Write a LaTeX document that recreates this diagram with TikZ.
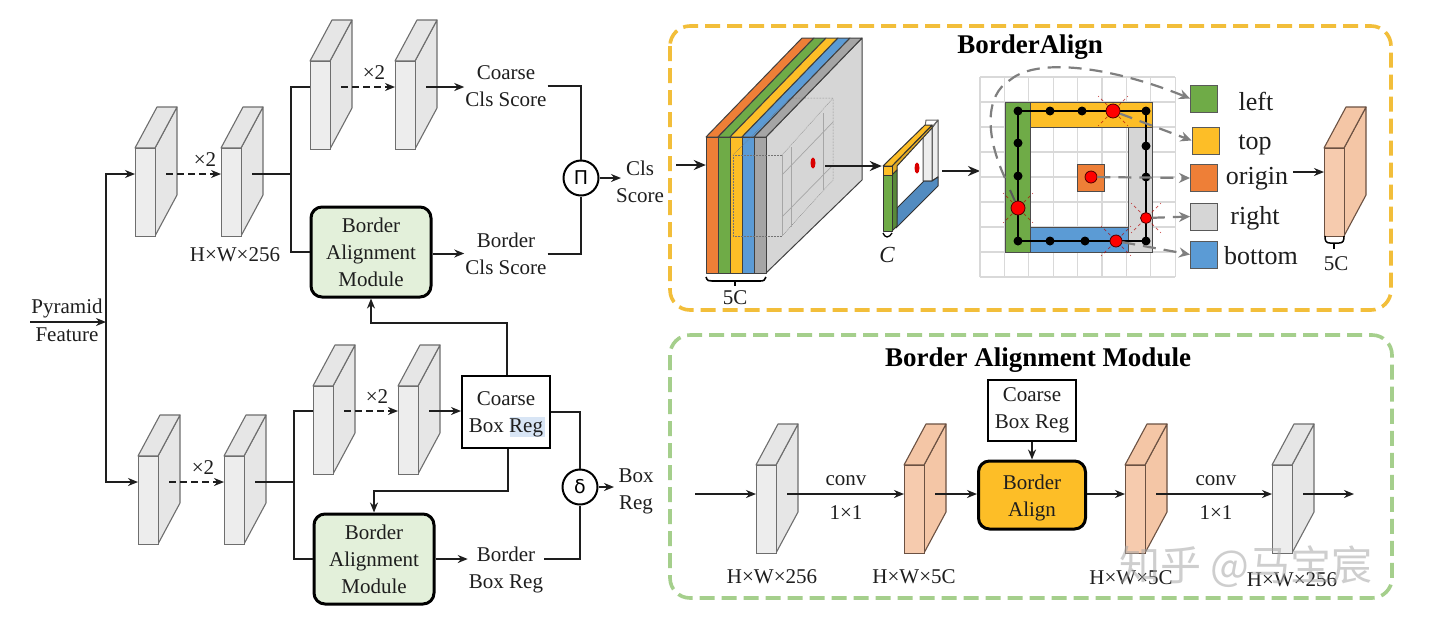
\documentclass[tikz,border=0pt]{standalone}
\usepackage{fontspec}
\setmainfont{Liberation Serif}
\newfontfamily\cjkwm{Noto Sans CJK SC}
\newfontfamily\symf{DejaVu Sans}
\usetikzlibrary{arrows.meta,calc}
\definecolor{slabF}{HTML}{EDEDED}\definecolor{slabS}{HTML}{E6E6E6}\definecolor{slabL}{HTML}{6E6E6E}
\definecolor{peachF}{HTML}{F6CBAE}\definecolor{peachS}{HTML}{F4C6A6}\definecolor{peachL}{HTML}{6B5142}
\definecolor{cOr}{HTML}{EE7F37}\definecolor{cGr}{HTML}{6FAB47}\definecolor{cYe}{HTML}{FDBE27}
\definecolor{cBl}{HTML}{5B9BD5}\definecolor{cGy}{HTML}{A5A5A5}\definecolor{cLg}{HTML}{D6D6D6}
\definecolor{ink}{HTML}{1E1E1E}\definecolor{dashY}{HTML}{F2BE3A}\definecolor{dashG}{HTML}{A5CF8C}
\definecolor{bamF}{HTML}{E3F0DA}\definecolor{hl}{HTML}{D8E5F5}\definecolor{arrG}{HTML}{7F7F7F}
\tikzset{
 lab/.style={font=\fontsize{21}{27}\selectfont,align=center,inner sep=1pt,text=ink},
 leg/.style={font=\fontsize{26}{28}\selectfont,inner sep=0pt,text=ink},
 ttl/.style={font=\fontsize{27}{30}\selectfont\bfseries,inner sep=0pt,text=black},
 conn/.style={draw=ink,line width=2pt,line join=miter},
 arr/.style={conn,-{Stealth[length=10pt,width=8pt]}},
 bigarr/.style={conn,-{Stealth[length=12pt,width=10pt]}},
 dasharr/.style={arr,dash pattern=on 7pt off 4pt},
 box/.style={draw=black,line width=2pt,fill=white,align=center,font=\fontsize{21}{27}\selectfont,text=ink,inner sep=0pt},
 bam/.style={box,rounded corners=11pt,line width=3pt,fill=bamF,minimum width=120pt,minimum height=90pt},
 fr/.style={line width=3.6pt,rounded corners=20pt,dash pattern=on 15pt off 7pt},
 op/.style={circle,draw=black,line width=2pt,fill=white,minimum size=35pt,inner sep=0pt},
 gyarr/.style={draw=arrG,line width=2.2pt,dash pattern=on 13pt off 8pt,-{Stealth[length=11pt,width=10pt]}},
 rdot/.style={circle,fill=red,draw=black!70!red,line width=.8pt,inner sep=0pt,minimum size=#1},
 bdot/.style={circle,fill=black,inner sep=0pt,minimum size=9pt},
 ray/.style={draw=red!70!black,line width=.7pt,dashed,opacity=.7},
 legbox/.style={draw=black!65,line width=1pt,minimum width=27pt,minimum height=27pt,inner sep=0pt}
}
\newcommand{\slabbox}[7]{%
 \fill[#5,draw=#6,line width=1.1pt,line join=round] (#2+20,#3)--(#2+42,#3-41)--(#2+42,#3+47)--(#2+20,#3+88)--cycle;
 \fill[#5,draw=#6,line width=1.1pt,line join=round] (#2,#3)--(#2+22,#3-41)--(#2+42,#3-41)--(#2+20,#3)--cycle;
 \node[draw=#6,fill=#4,line width=1.1pt,minimum width=20pt,minimum height=88pt,inner sep=0pt,anchor=north west] (#1) at (#2,#3) {};
 \coordinate (#1-in) at (#2,#3+#7);
 \coordinate (#1-out) at (#2+31,#3+#7);
}
\begin{document}
\begin{tikzpicture}[x=1pt,y=-1pt]
\useasboundingbox (0,0) rectangle (1434,630);
\fill[white] (0,0) rectangle (1434,630);
\draw[fr,draw=dashY] (670,26) rectangle (1391,310);
\draw[fr,draw=dashG] (670,335) rectangle (1392,598);
\node[ttl] (t1) at (1030,47) {BorderAlign};
\node[ttl] (t2) at (1038,360) {Border Alignment Module};
\slabbox{a1}{135}{148}{slabF}{slabS}{slabL}{26}
\slabbox{a2}{221}{148}{slabF}{slabS}{slabL}{26}
\slabbox{b1}{310}{61}{slabF}{slabS}{slabL}{26}
\slabbox{b2}{395}{61}{slabF}{slabS}{slabL}{26}
\slabbox{c1}{138}{456}{slabF}{slabS}{slabL}{26}
\slabbox{c2}{224}{456}{slabF}{slabS}{slabL}{26}
\slabbox{d1}{313}{386}{slabF}{slabS}{slabL}{25}
\slabbox{d2}{398}{386}{slabF}{slabS}{slabL}{25}
\slabbox{e1}{756}{465}{slabF}{slabS}{slabL}{29}
\slabbox{e2}{904}{465}{peachF}{peachS}{peachL}{29}
\slabbox{e3}{1125}{465}{peachF}{peachS}{peachL}{29}
\slabbox{e4}{1272}{465}{slabF}{slabS}{slabL}{29}
\slabbox{f1}{1324}{148}{peachF}{peachS}{peachL}{24}
\node[lab] (pyr) at (67,308) {Pyramid};
\node[lab] (fea) at (67,335) {Feature};
\coordinate (pstart) at (30,322);
\coordinate (pjoin) at (106,322);
\node[lab] (dim1) at (235,255) {H×W×256};
\node[lab] (x1) at (205,160) {×2};
\node[lab] (x2) at (374,73) {×2};
\node[lab] (x3) at (203,468) {×2};
\node[lab] (x4) at (377,397) {×2};
\node[lab] (cc) at (506,86) {Coarse\\Cls Score};
\node[lab] (bc) at (506,253.5) {Border\\Cls Score};
\node[lab] (cs) at (640,182) {Cls\\Score};
\node[lab] (bb) at (506,570) {Border\\Box Reg};
\node[lab] (br) at (636,491) {Box\\Reg};
\node[bam] (bam1) at (371,252) {Border\\Alignment\\Module};
\node[bam] (bam2) at (374,559) {Border\\Alignment\\Module};
\node[box,minimum width=88pt,minimum height=72pt] (cb) at (506,412) {};
\fill[hl] (510,417) rectangle (545,437);
\node[lab] (cbt) at (506,414.5) {Coarse\\Box Reg};
\node[op] (pi) at (581,178) {\symf\fontsize{19}{19}\selectfont Π};
\node[op] (de) at (580,487) {\symf\fontsize{19}{19}\selectfont δ};
\draw[arr] (pstart) -- (pjoin);
\draw[arr] (pjoin) |- (a1-in);
\draw[arr] (pjoin) |- (c1-in);
\draw[dasharr] (a1-out) -- (a2-in);
\draw[dasharr] (c1-out) -- (c2-in);
\draw[dasharr] (b1-out) -- (b2-in);
\draw[dasharr] (d1-out) -- (d2-in);
\coordinate (j1) at (291,174);
\coordinate (j2) at (294,482);
\draw[conn] (a2-out) -- (j1);
\draw[conn] (c2-out) -- (j2);
\draw[conn] (b1-in) -| (j1);
\draw[conn] (bam1.west) -| (j1);
\draw[conn] (d1-in) -| (j2);
\draw[conn] (bam2.west) -| (j2);
\coordinate (csin) at (621,178);
\coordinate (brin) at (614,487);
\draw[arr] (b2-out) -- (cc.west |- b2-out);
\draw[arr] (bam1.east |- bc.west) -- (bc.west);
\draw[arr] (d2-out) -- (cb.west |- d2-out);
\draw[arr] (bam2.east) -- (bb.west |- bam2.east);
\draw[conn] (cc.east) -| (pi.north);
\draw[conn] (bc.east) -| (pi.south);
\draw[arr] (pi.east) -- (csin);
\draw[arr] (de.east) -- (brin);
\draw[conn] (cb.east |- 0,412) -| (de.north);
\draw[conn] (bb.east |- bam2.east) -| (de.south);
\coordinate (u1) at (507,323);
\coordinate (u2) at (508,491);
\draw[arr] (cb.north -| u1) -- (u1) -| (bam1.south);
\draw[arr] (cb.south -| u2) -- (u2) -| (bam2.north);
\node[lab] (e1l) at (772,577) {H×W×256};
\node[lab] (e2l) at (914,577) {H×W×5C};
\node[lab] (e3l) at (1131,578) {H×W×5C};
\node[lab] (e4l) at (1292,580) {H×W×256};
\node[lab] (cv1) at (846,481) {conv};
\node[lab] (k1) at (846,513) {1×1};
\node[lab] (cv2) at (1216,481) {conv};
\node[lab] (k2) at (1216,513) {1×1};
\node[box,minimum width=88pt,minimum height=61pt,text depth=3pt] (cb2) at (1032,410) {\rule{0pt}{4pt}Coarse\\Box Reg};
\node[box,rounded corners=11pt,line width=3pt,fill=cYe,minimum width=107pt,minimum height=68pt] (ba) at (1032,495) {};
\node[lab] (bat) at (1032,497.5) {Border\\Align};
\coordinate (estart) at (695,494);
\coordinate (eend) at (1354,494);
\draw[arr] (estart) -- (e1-in);
\draw[arr] (e1-out) -- (e2-in);
\draw[arr] (e2-out) -- (ba.west |- e2-out);
\draw[arr] (ba.east |- e3-in) -- (e3-in);
\draw[arr] (e3-out) -- (e4-in);
\draw[arr] (e4-out) -- (eend);
\draw[arr] (cb2.south) -- (ba.north);
% big tensor
\begin{scope}[line width=1pt,draw=black!75,line join=round]
\filldraw[fill=cLg] (766,137)--(862,38)--(862,180)--(766,273)--cycle;
\filldraw[fill=cOr] (706,137)--(802,38)--(814,38)--(718,137)--cycle;
\filldraw[fill=cGr] (718,137)--(814,38)--(826,38)--(730,137)--cycle;
\filldraw[fill=cYe] (730,137)--(826,38)--(838,38)--(742,137)--cycle;
\filldraw[fill=cBl] (742,137)--(838,38)--(850,38)--(754,137)--cycle;
\filldraw[fill=cGy] (754,137)--(850,38)--(862,38)--(766,137)--cycle;
\filldraw[fill=cOr] (706,137) rectangle (718,273);
\filldraw[fill=cGr] (718,137) rectangle (730,273);
\filldraw[fill=cYe] (730,137) rectangle (742,273);
\filldraw[fill=cBl] (742,137) rectangle (754,273);
\filldraw[fill=cGy] (754,137) rectangle (766,273);
\end{scope}
\begin{scope}[draw=black!55,line width=.5pt]
\draw[densely dotted] (733,155) rectangle (782,236);
\draw[densely dotted] (733,155)--(790,98)--(833,98)--(833,180)--(782,236);
\draw[densely dotted] (782,155)--(833,98);
\draw[black!35,line width=.7pt] (782,155)--(782,236);
\draw[black!35,line width=.7pt] (791,147)--(791,227);
\draw[black!35,line width=.7pt] (823,113)--(823,190);
\draw[black!35,line width=.7pt] (782,175)--(833,122);
\draw[black!35,line width=.7pt] (782,217)--(833,165);
\end{scope}
\fill[red!85!black] (813,163) ellipse (2.5 and 5.5);
\draw[line width=1.6pt,black] (706,277) .. controls (707,281) and (709,281) .. (712,281) -- (760,281) .. controls (764,281) and (765,280) .. (766,277);
\coordinate (bt1) at (735,281);\coordinate (bt2) at (735,286);
\draw[line width=1.4pt,black] (bt1)--(bt2);
\node[lab] (fc1) at (735,298) {5C};
\coordinate (gin) at (676,165);
\node[inner sep=0pt,minimum size=0pt] (bigin) at (706,165) {};
\draw[bigarr] (gin) -- (bigin);
% small frame
\begin{scope}[line width=1pt,draw=black!80,line join=round]
\filldraw[fill=slabF,draw=black!70] (932,128)--(938,120)--(938,177)--(932,181)--cycle;
\filldraw[fill=white,draw=black!60] (926,120)--(938,120)--(932,127)--(925,127)--cycle;
\filldraw[fill=slabF,draw=black!70] (923,135)--(932,127)--(932,181)--(923,181)--cycle;
\filldraw[fill=cBl!90!black] (897,208)--(924,181)--(932,181)--(938,177)--(938,186)--(896,228)--cycle;
\filldraw[fill=cYe!90!black] (892,166)--(932,125)--(932,128)--(897,166)--(897,170)--(892,175)--cycle;
\filldraw[fill=cYe] (883,166)--(925,125)--(932,125)--(892,166)--cycle;
\filldraw[fill=cGr!80!black] (892,175)--(897,170)--(897,226)--(892,231)--cycle;
\filldraw[fill=cGr] (883,175) rectangle (892,231);
\filldraw[fill=cYe] (883,166) rectangle (892,175);
\end{scope}
\fill[red!85!black] (917,168) ellipse (2.5 and 5.5);
\draw[line width=1.3pt,black] (883,233) .. controls (884,236) and (885,236) .. (887,237) .. controls (889,236) and (891,236) .. (892,233);
\node[font=\fontsize{23}{25}\selectfont\itshape,inner sep=0pt,text=ink] (clab) at (887,255) {C};
\node[inner sep=0pt,minimum size=0pt] (tinA) at (882,166) {};
\coordinate (ga) at (825,166);
\draw[bigarr] (ga) -- (tinA);
\coordinate (gb) at (942,171);
\coordinate (gc) at (980,171);
\draw[bigarr] (gb) -- (gc);
% grid
\foreach \i in {0,...,8}{
 \draw[black!15,line width=1.1pt] ({980+\i*24.4},77)--({980+\i*24.4},277);
 \draw[black!15,line width=1.1pt] (980,{77+\i*25})--(1175,{77+\i*25});
}
\begin{scope}[line width=1pt,draw=black!70]
\filldraw[fill=cGr] (1005,102) rectangle (1030,252);
\filldraw[fill=cYe] (1030,102) rectangle (1152,127);
\filldraw[fill=cLg] (1128,127) rectangle (1152,252);
\filldraw[fill=cBl] (1030,227) rectangle (1128,252);
\filldraw[fill=cOr] (1077,164) rectangle (1104,191);
\end{scope}
\draw[black,line width=1.6pt] (1018,111) rectangle (1146,241);
\foreach \cx/\cy in {1113/111,1018/208,1116/241,1146/218}{
 \foreach \a in {45,135,225,315}{
  \draw[ray] ($(\cx,\cy)+(\a:8)$) -- ($(\cx,\cy)+(\a:21)$);
 }
}
\foreach \x/\y in {1018/111,1050/111,1082/111,1146/111,1146/146,1146/177,1146/241,1050/241,1085/241,1018/241,1018/143,1018/176}{
 \node[bdot] at (\x,\y) {};
}
\node[legbox,fill=cGr] (lg1) at (1204,98.5) {};
\node[legbox,fill=cYe] (lg2) at (1205.5,140.5) {};
\node[legbox,fill=cOr] (lg3) at (1204,178) {};
\node[legbox,fill=cLg] (lg4) at (1204,216.5) {};
\node[legbox,fill=cBl] (lg5) at (1204,254.5) {};
\node[leg] (l1) at (1256,101) {left};
\node[leg] (l2) at (1255,145) {top};
\node[leg] (l3) at (1257,179) {origin};
\node[leg] (l4) at (1255,218) {right};
\node[leg] (l5) at (1261,256) {bottom};
\node[rdot=14pt] (r1) at (1113,111) {};
\node[rdot=14pt] (r2) at (1018,208) {};
\node[rdot=12pt] (r3) at (1116,241) {};
\node[rdot=11pt] (r4) at (1146,218) {};
\node[rdot=12pt] (r5) at (1091,177) {};
\draw[draw=arrG!70!black,line width=2pt] (r2) -- (1010,190);
\draw[gyarr] (1005,178) .. controls (985,135) and (985,95) .. (1010,80) .. controls (1040,55) and (1120,70) .. (lg1.west);
\draw[gyarr] (r1) -- (lg2.west);
\draw[gyarr] (r5) -- (lg3.west);
\draw[gyarr] (r4) -- (lg4.west);
\draw[gyarr] (r3) -- (lg5.west);
\coordinate (f1from) at (1293,172);
\draw[arr] (f1from) -- (f1-in);
\draw[line width=1.5pt,black] (1325,236) .. controls (1325,241) and (1326,243) .. (1330,243) -- (1339,243) .. controls (1343,243) and (1344,241) .. (1344,236);
\coordinate (bt3) at (1334,243);\coordinate (bt4) at (1334,249);
\draw[line width=1.4pt,black] (bt3)--(bt4);
\node[lab] (fc2) at (1336,264) {5C};
\node[font=\cjkwm\fontsize{41}{44}\selectfont,text=black!35,opacity=.55,inner sep=0pt] (wm) at (1246,567) {知乎 @马宝宸};
\end{tikzpicture}
\end{document}
